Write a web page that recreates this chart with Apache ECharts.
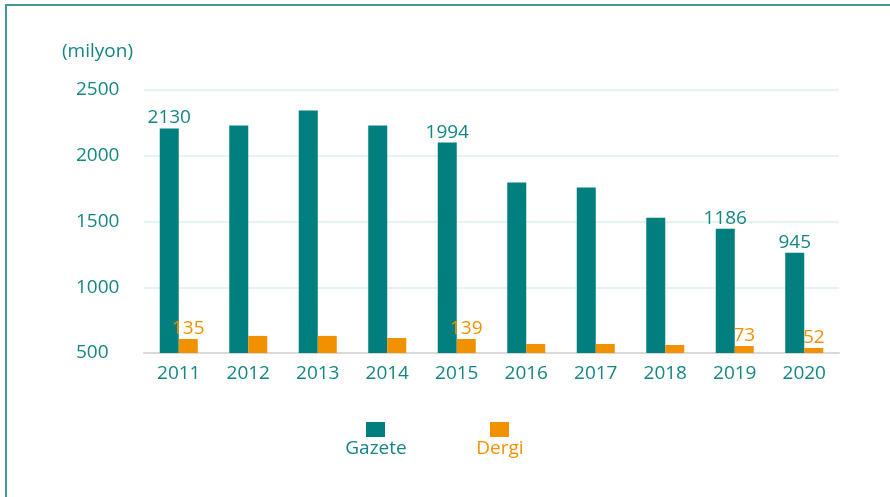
<!DOCTYPE html>
<html>
<head>
<meta charset="utf-8">
<script src="https://cdn.jsdelivr.net/npm/echarts@6/dist/echarts.min.js"></script>
<style>
	html, body {margin: 0; padding: 0; background: #fff}
	#chart {width: 890px; height: 497px}
</style>
</head>
<body>
<div id="chart"></div>
<script>
let years = ["2011", "2012", "2013", "2014", "2015", "2016", "2017", "2018", "2019", "2020"]
let gazete = [2207, 2230, 2344, 2230, 2100, 1796, 1758, 1529, 1445, 1262]
let dergi = [607, 630, 630, 614, 607, 569, 569, 561, 553, 538]
// label texts as printed on the original, only some bars carry one
let gazeteLabels = ["2130", "", "", "", "1994", "", "", "", "1186", "945"]
let dergiLabels = ["135", "", "", "", "139", "", "", "", "73", "52"]

let teal = "#007f7e"
let orange = "#f29100"
let tealText = "#148683"
let font = "Open Sans"
let fs = 19

function withLabels(values, labels) {
	return values.map(function (v, i) {
		return {value: v, label: {show: labels[i] !== "", formatter: labels[i]}}
	})
}

let chart = echarts.init(document.getElementById("chart"))
let option = {
	animation: false,
	textStyle: {fontFamily: font},
	title: {
		text: "(milyon)",
		left: 57,
		top: 37,
		textStyle: {color: tealText, fontSize: fs, fontWeight: "normal", fontFamily: font}
	},
	grid: {left: 144, right: 51, top: 90, bottom: 144},
	xAxis: {
		type: "category",
		data: years,
		axisLine: {lineStyle: {color: "#d9d9d9", width: 2}},
		axisTick: {length: 9, lineStyle: {color: "#d9d9d9", width: 2}},
		axisLabel: {color: tealText, fontSize: fs, margin: 11, fontFamily: font}
	},
	yAxis: {
		type: "value",
		min: 500,
		max: 2500,
		interval: 500,
		axisLine: {show: false},
		axisTick: {show: false},
		axisLabel: {color: tealText, fontSize: fs, margin: 68, align: "left", fontFamily: font, formatter: function (v) { return String(v) }},
		splitLine: {lineStyle: {color: "#dcefef", width: 1.5}}
	},
	legend: {
		show: false
	},
	series: [
		{
			name: "Gazete",
			type: "bar",
			barWidth: 19,
			barGap: "0%",
			itemStyle: {color: teal},
			label: {position: "top", distance: 1, color: tealText, fontSize: fs, fontFamily: font},
			data: withLabels(gazete, gazeteLabels)
		},
		{
			name: "Dergi",
			type: "bar",
			barWidth: 19,
			itemStyle: {color: orange},
			label: {position: "top", distance: 1, color: orange, fontSize: fs, fontFamily: font},
			data: withLabels(dergi, dergiLabels)
		}
	],
	graphic: [
		{type: "rect", shape: {x: 6, y: 5, width: 1000, height: 600}, style: {fill: null, stroke: "#3f9a97", lineWidth: 2}, silent: true},
		{type: "rect", shape: {x: 366, y: 422, width: 19, height: 15}, style: {fill: teal}},
		{type: "text", x: 376, y: 449, style: {text: "Gazete", fill: tealText, font: fs + "px " + font, textAlign: "center", textVerticalAlign: "middle"}},
		{type: "rect", shape: {x: 490, y: 422, width: 19, height: 15}, style: {fill: orange}},
		{type: "text", x: 500, y: 449, style: {text: "Dergi", fill: orange, font: fs + "px " + font, textAlign: "center", textVerticalAlign: "middle"}}
	]
}
chart.setOption(option)
window.onresize = chart.resize
</script>
</body>
</html>
